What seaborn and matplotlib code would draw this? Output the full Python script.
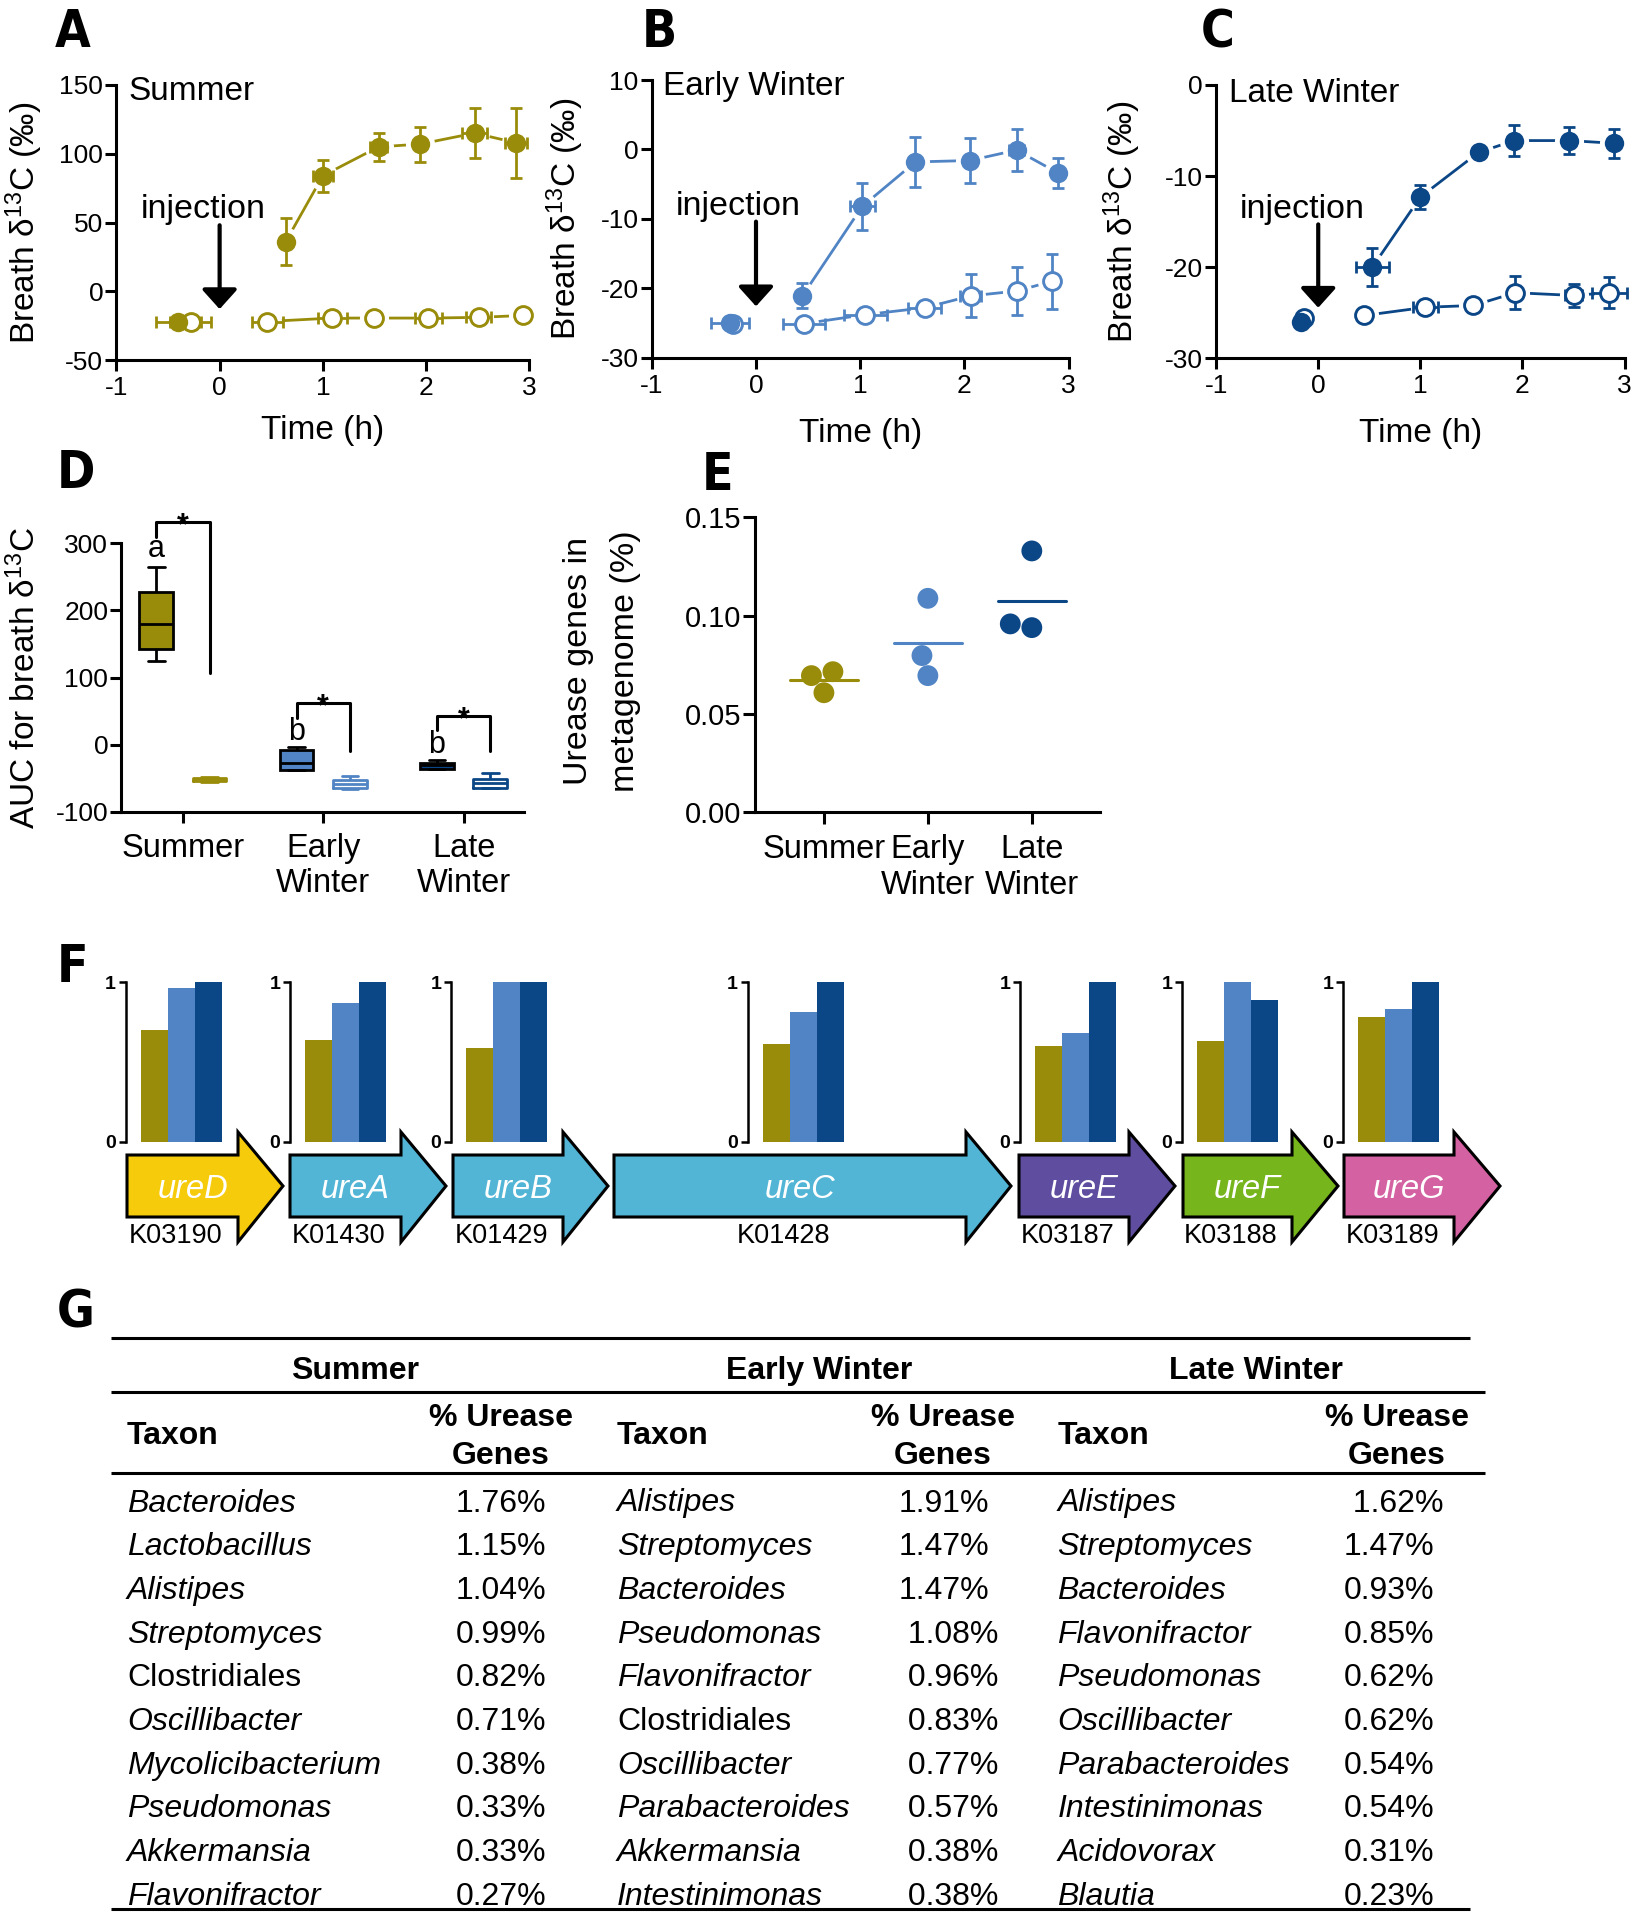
import numpy as np
import pandas as pd
import matplotlib
matplotlib.use("Agg")
import matplotlib.pyplot as plt
from matplotlib.patches import Polygon
import seaborn as sns

# ------------------------------------------------------------------ data
seasons = ["Summer", "Early Winter", "Late Winter"]
season_ticklabels = ["Summer", "Early\nWinter", "Late\nWinter"]
season_colors = ["#9A8C0B", "#5084C4", "#0B4686"]

# A-C: breath d13C; first point of every series is the pre-injection sample
# filled = 13C-urea injected, open = control
summer_urea_t = [-0.40, 0.64, 1.00, 1.54, 1.94, 2.47, 2.87]
summer_urea_y = [-22, 36, 84, 105, 107, 115, 108]
summer_urea_yerr = [0, 17, 11.5, 10, 12.7, 18.3, 25.6]
summer_urea_terr = [0.22, 0, 0.1, 0.08, 0, 0.12, 0.11]
summer_ctrl_t = [-0.28, 0.46, 1.09, 1.50, 2.02, 2.51, 2.94]
summer_ctrl_y = [-22, -22, -19.5, -19.5, -19.5, -19, -17.6]
summer_ctrl_yerr = [0, 0, 0, 0, 0, 0, 0]
summer_ctrl_terr = [0.2, 0.15, 0.14, 0, 0.13, 0.12, 0]

early_urea_t = [-0.25, 0.445, 1.02, 1.53, 2.05, 2.50, 2.90]
early_urea_y = [-25, -21.1, -8.2, -1.8, -1.6, -0.1, -3.4]
early_urea_yerr = [0, 1.8, 3.4, 3.6, 3.3, 3.0, 2.1]
early_urea_terr = [0.18, 0, 0.12, 0, 0, 0.07, 0]
early_ctrl_t = [-0.22, 0.46, 1.05, 1.62, 2.06, 2.50, 2.84]
early_ctrl_y = [-25.2, -25.1, -23.8, -22.8, -21.1, -20.4, -19.0]
early_ctrl_yerr = [0, 0, 0, 0.7, 3.1, 3.4, 4.0]
early_ctrl_terr = [0, 0.2, 0.21, 0.16, 0.1, 0, 0]

late_urea_t = [-0.17, 0.53, 1.00, 1.57, 1.92, 2.46, 2.90]
late_urea_y = [-26, -20, -12.3, -7.4, -6.1, -6.1, -6.4]
late_urea_yerr = [0, 2.1, 1.3, 0, 1.7, 1.5, 1.6]
late_urea_terr = [0, 0.16, 0, 0, 0, 0, 0]
late_ctrl_t = [-0.14, 0.45, 1.05, 1.52, 1.93, 2.50, 2.85]
late_ctrl_y = [-25.6, -25.3, -24.4, -24.2, -22.8, -23.1, -22.8]
late_ctrl_yerr = [0, 0, 0, 0, 1.8, 1.3, 1.7]
late_ctrl_terr = [0, 0, 0.12, 0, 0, 0.08, 0.17]

# D: AUC box stats [min, q1, median, q3, max]
auc_summer_urea = [125, 143, 180, 227, 265]
auc_summer_ctrl = [-55, -54, -52, -50, -49]
auc_early_urea = [-38, -38, -27, -8.5, -3.5]
auc_early_ctrl = [-66, -65, -58, -53, -47]
auc_late_urea = [-36, -36, -30, -27, -23]
auc_late_ctrl = [-64, -64, -57, -51, -43]
sig_letters = ["a", "b", "b"]
sig_letter_y = [280, 6.5, -12.4]
bracket_left_y = [310, 40, 22]
bracket_top_y = [332, 62, 43]
bracket_right_y = [107, -10, -10]

# E: urease genes in metagenome (%)
urease_summer = [0.0715, 0.0695, 0.0608]
urease_early = [0.1088, 0.0797, 0.0695]
urease_late = [0.1329, 0.0939, 0.0958]

# F: relative abundance of each urease gene
genes = ["ureD", "ureA", "ureB", "ureC", "ureE", "ureF", "ureG"]
gene_kos = ["K03190", "K01430", "K01429", "K01428", "K03187", "K03188", "K03189"]
gene_colors = ["#F5CB0C", "#52B5D6", "#52B5D6", "#52B5D6", "#5F4EA0", "#76B51C", "#D462A3"]
rel_summer = [0.70, 0.64, 0.59, 0.61, 0.60, 0.63, 0.78]
rel_early = [0.96, 0.87, 1.00, 0.81, 0.68, 1.00, 0.83]
rel_late = [1.00, 1.00, 1.00, 1.00, 1.00, 0.89, 1.00]

# G: top taxa
summer_taxa = ["Bacteroides", "Lactobacillus", "Alistipes", "Streptomyces", "Clostridiales",
               "Oscillibacter", "Mycolicibacterium", "Pseudomonas", "Akkermansia", "Flavonifractor"]
summer_pct = ["1.76%", "1.15%", "1.04%", "0.99%", "0.82%", "0.71%", "0.38%", "0.33%", "0.33%", "0.27%"]
early_taxa = ["Alistipes", "Streptomyces", "Bacteroides", "Pseudomonas", "Flavonifractor",
              "Clostridiales", "Oscillibacter", "Parabacteroides", "Akkermansia", "Intestinimonas"]
early_pct = ["1.91%", "1.47%", "1.47%", " 1.08%", " 0.96%", " 0.83%", " 0.77%", " 0.57%", " 0.38%", " 0.38%"]
late_taxa = ["Alistipes", "Streptomyces", "Bacteroides", "Flavonifractor", "Pseudomonas",
             "Oscillibacter", "Parabacteroides", "Intestinimonas", "Acidovorax", "Blautia"]
late_pct = [" 1.62%", "1.47%", "0.93%", "0.85%", "0.62%", "0.62%", "0.54%", "0.54%", "0.31%", "0.23%"]

# ------------------------------------------------------------------ style
sns.set_style("ticks", {"axes.edgecolor": "black", "xtick.color": "black", "ytick.color": "black",
                        "text.color": "black", "axes.labelcolor": "black"})
plt.rcParams.update({
    "font.family": ["Liberation Sans", "DejaVu Sans"],
    "mathtext.fontset": "custom",
    "mathtext.rm": "Liberation Sans",
    "mathtext.it": "Liberation Sans:italic",
    "mathtext.bf": "Liberation Sans:bold",
    "axes.unicode_minus": False,
    "axes.linewidth": 2.2,
})
LETTER_FONT = ["Liberation Sans Narrow", "DejaVu Sans"]
BIG = 24
TICK = 19

W, H = 1642, 1920
fig = plt.figure(figsize=(W / 100, H / 100), dpi=100)


def px_axes(left, top, right, bottom):
    return fig.add_axes([left / W, 1 - bottom / H, (right - left) / W, (bottom - top) / H])


def style_axis(ax, ticklen=8, labelsize=TICK):
    sns.despine(ax=ax)
    for s in ("left", "bottom"):
        ax.spines[s].set_linewidth(2.2)
    ax.tick_params(width=2.2, length=ticklen, labelsize=labelsize)
    ax.tick_params(axis="y", pad=1.5)
    ax.tick_params(axis="x", pad=3.5)


def time_course(ax, urea, ctrl, color):
    for t, y, yerr, terr in (ctrl, urea):
        after = pd.DataFrame({"t": t[1:], "y": y[1:]})
        sns.lineplot(data=after, x="t", y="y", color=color, lw=2, estimator=None,
                     sort=False, ax=ax, zorder=1)
        sns.scatterplot(x=t, y=y, color="white", s=440, linewidth=0, ax=ax, zorder=2,
                        clip_on=False)
        ax.errorbar(t, y, yerr=yerr, xerr=terr, fmt="none", ecolor=color,
                    elinewidth=2, capsize=4, capthick=2, zorder=3, clip_on=False)
    sns.scatterplot(x=ctrl[0], y=ctrl[1], color="white", edgecolor=color, s=165,
                    linewidth=2.1, ax=ax, zorder=4, clip_on=False)
    sns.scatterplot(x=urea[0], y=urea[1], color=color, s=195, linewidth=0, ax=ax, zorder=4,
                    clip_on=False)


# ------------------------------------------------------------------ A-C
tc_panels = [
    ((116.4, 85, 529.3, 360),
     (summer_urea_t, summer_urea_y, summer_urea_yerr, summer_urea_terr),
     (summer_ctrl_t, summer_ctrl_y, summer_ctrl_yerr, summer_ctrl_terr),
     season_colors[0], (-50, 150, 50), "Summer", (0.030, 0.945), -0.200, -0.173),
    ((651.8, 80, 1068.6, 357.7),
     (early_urea_t, early_urea_y, early_urea_yerr, early_urea_terr),
     (early_ctrl_t, early_ctrl_y, early_ctrl_yerr, early_ctrl_terr),
     season_colors[1], (-30, 10, 10), "Early Winter", (0.027, 0.946), -0.217, -0.158),
    ((1216.1, 85, 1624.6, 358.3),
     (late_urea_t, late_urea_y, late_urea_yerr, late_urea_terr),
     (late_ctrl_t, late_ctrl_y, late_ctrl_yerr, late_ctrl_terr),
     season_colors[2], (-30, 0, 10), "Late Winter", (0.032, 0.939), -0.218, -0.180),
]
for box, urea, ctrl, color, (y0, y1, ystep), title, tpos, xl_y, yl_x in tc_panels:
    ax = px_axes(*box)
    time_course(ax, urea, ctrl, color)
    ax.set_xlim(-1, 3)
    ax.set_ylim(y0, y1)
    ax.set_xticks(range(-1, 4))
    ax.set_yticks(np.arange(y0, y1 + 1, ystep))
    style_axis(ax)
    ax.set_xlabel("Time (h)", fontsize=BIG)
    ax.set_ylabel("Breath δ$^{13}$C (‰)", fontsize=BIG)
    ax.xaxis.set_label_coords(0.5, xl_y)
    ax.yaxis.set_label_coords(yl_x, 0.5)
    ax.text(*tpos, title, transform=ax.transAxes, fontsize=BIG, va="baseline")
    ax.text(0.058, 0.515, "injection", transform=ax.transAxes, fontsize=24.5, va="baseline")
    ax.annotate("", xy=(0, 0.185), xytext=(0, 0.49),
                xycoords=("data", "axes fraction"), textcoords=("data", "axes fraction"),
                arrowprops=dict(arrowstyle="-|>,head_length=0.4,head_width=0.36",
                                mutation_scale=30, lw=3, color="black",
                                shrinkA=0, shrinkB=0))

# ------------------------------------------------------------------ D
box_off = 0.19
auc_urea = [auc_summer_urea, auc_early_urea, auc_late_urea]
auc_ctrl = [auc_summer_ctrl, auc_early_ctrl, auc_late_ctrl]
df_auc = pd.DataFrame([
    {"season": seasons[i], "group": g, "pos": i + (-box_off if g == "urea" else box_off), "auc": v}
    for i, (u, c) in enumerate(zip(auc_urea, auc_ctrl))
    for g, vals in (("urea", u), ("ctrl", c)) for v in vals
])
ax = px_axes(121.4, 543.3, 524.3, 811.7)
common = dict(x="pos", y="auc", hue="season", palette=season_colors, native_scale=True,
              dodge=False, width=0.24, whis=(0, 100), showfliers=False, linewidth=2,
              saturation=1, legend=False, ax=ax)
sns.boxplot(data=df_auc[df_auc.group == "urea"], linecolor="black", **common)
sns.boxplot(data=df_auc[df_auc.group == "ctrl"], fill=False, **common)
for i in range(3):
    x1, x2 = i - box_off, i + box_off
    ax.plot([x1, x1, x2, x2], [bracket_left_y[i], bracket_top_y[i], bracket_top_y[i],
                               bracket_right_y[i]], color="black", lw=2.2, clip_on=False)
    ax.annotate("*", xy=((x1 + x2) / 2, bracket_top_y[i]), xytext=(0, -9),
                textcoords="offset points", ha="center", va="baseline",
                fontsize=22, fontweight="bold", annotation_clip=False)
    ax.text(x1, sig_letter_y[i], sig_letters[i], ha="center", va="baseline", fontsize=22)
ax.set_xlim(-0.438, 2.432)
ax.set_ylim(-100, 300)
ax.set_yticks([-100, 0, 100, 200, 300])
ax.set_xticks([0, 1, 2], season_ticklabels)
style_axis(ax)
ax.tick_params(axis="x", labelsize=23.5, pad=7)
ax.set_xlabel("")
ax.set_ylabel("AUC for breath δ$^{13}$C", fontsize=BIG)
ax.yaxis.set_label_coords(-0.197, 0.5)

# ------------------------------------------------------------------ E
df_e = pd.DataFrame({
    "season": np.repeat(seasons, 3),
    "pct": urease_summer + urease_early + urease_late,
})
ax = px_axes(755.4, 517.3, 1099.6, 812.3)
sns.swarmplot(data=df_e, x="season", y="pct", hue="season", palette=season_colors,
              size=15, legend=False, ax=ax)
for i, vals in enumerate((urease_summer, urease_early, urease_late)):
    ax.plot([i - 0.33, i + 0.33], [np.mean(vals)] * 2, color=season_colors[i], lw=2.2)
ax.set_xlim(-0.659, 2.652)
ax.set_ylim(0, 0.15)
eticks = [0, 0.05, 0.10, 0.15]
ax.set_yticks(eticks, [f"{v:.2f}" for v in eticks])
ax.set_xticks([0, 1, 2], season_ticklabels)
style_axis(ax, ticklen=8.5, labelsize=21)
ax.tick_params(axis="x", labelsize=23.5, pad=7)
ax.set_xlabel("")
ax.set_ylabel("")
ax.text(-0.5125, 0.513, "Urease genes in", rotation=90, ha="center", va="center",
        transform=ax.transAxes, fontsize=24.5)
ax.text(-0.376, 0.513, "metagenome (%)", rotation=90, ha="center", va="center",
        transform=ax.transAxes, fontsize=24.5)

# ------------------------------------------------------------------ F bar charts
chart_spine_x = [125.5, 290, 451, 747.5, 1020, 1182, 1343]
for i, gx in enumerate(chart_spine_x):
    ax = px_axes(gx, 982, gx + 96, 1142)
    ax.patch.set_alpha(0)
    sns.barplot(x=seasons, y=[rel_summer[i], rel_early[i], rel_late[i]], hue=seasons,
                palette=season_colors, width=1, saturation=1, errorbar=None,
                legend=False, linewidth=0, ax=ax)
    ax.set_xlim(-1.056, 2.5)
    ax.set_ylim(0, 1)
    sns.despine(ax=ax, bottom=True)
    ax.spines["left"].set_linewidth(1.8)
    ax.set_xticks([])
    ax.set_yticks([0, 1], ["0", "1"])
    ax.tick_params(axis="y", width=1.8, length=5, pad=2, labelsize=14)
    for lab in ax.get_yticklabels():
        lab.set_fontweight("bold")
    ax.set_xlabel("")
    ax.set_ylabel("")

# ------------------------------------------------------------------ overlay: arrows, table, letters
ov = fig.add_axes([0, 0, 1, 1])
ov.set_xlim(0, W)
ov.set_ylim(H, 0)
ov.axis("off")

gene_left = [127, 290, 453, 614, 1019, 1183, 1344]
gene_headbase = [238, 401, 563, 966, 1129, 1292, 1454]
gene_tip = [283, 446, 608, 1011, 1175, 1338, 1500]
body_top, body_bot, head_top, head_bot = 1155, 1217, 1132, 1242
mid_y = (body_top + body_bot) / 2
for i, g in enumerate(genes):
    l, hb, tp = gene_left[i], gene_headbase[i], gene_tip[i]
    ov.add_patch(Polygon([(l, body_top), (hb, body_top), (hb, head_top), (tp, mid_y),
                          (hb, head_bot), (hb, body_bot), (l, body_bot)], closed=True,
                         fc=gene_colors[i], ec="black", lw=2.2, joinstyle="miter"))
    cx = (l + hb) / 2
    ov.text(cx + 10, 1198, g, color="white", style="italic", fontsize=23.5,
            ha="center", va="baseline")
    ov.text(cx - 6.5, 1243, gene_kos[i], fontsize=19.5, ha="center", va="baseline")

# table
for y, x0, x1 in ((1337.5, 111, 1470), (1392, 111, 1485), (1473, 111, 1485), (1909, 111, 1470)):
    ov.plot([x0, x1], [y, y], color="black", lw=2.2, solid_capstyle="butt")
TFS = 23
season_center_x = [355, 819, 1256]
taxon_x = [127, 617, 1057.5]
pct_head_x = [501, 943, 1397]
pct_x = [456, 899, 1344]
columns = [(summer_taxa, summer_pct), (early_taxa, early_pct), (late_taxa, late_pct)]
for j, (taxa, pcts) in enumerate(columns):
    ov.text(season_center_x[j], 1379, seasons[j], fontsize=TFS, fontweight="bold",
            ha="center", va="baseline")
    ov.text(taxon_x[j], 1444, "Taxon", fontsize=TFS, fontweight="bold", va="baseline")
    ov.text(pct_head_x[j], 1425.7, "% Urease", fontsize=TFS, fontweight="bold",
            ha="center", va="baseline")
    ov.text(pct_head_x[j], 1464, "Genes", fontsize=TFS, fontweight="bold",
            ha="center", va="baseline")
    for r, (name, pct) in enumerate(zip(taxa, pcts)):
        yb = 1511.5 + r * 43.7
        ov.text(taxon_x[j], yb, name, fontsize=TFS, va="baseline",
                style="normal" if name.endswith("ales") else "italic")
        ov.text(pct_x[j], yb, pct, fontsize=TFS, va="baseline")

# panel letters
for letter, x, y in (("A", 55, 47), ("B", 642, 47), ("C", 1201, 47), ("D", 57, 488),
                     ("E", 702, 490), ("F", 57, 982), ("G", 57, 1328)):
    ov.text(x, y, letter, fontsize=37, fontweight="bold", fontstretch="condensed",
            family=LETTER_FONT, va="baseline")

fig.savefig("out.png", dpi=100)
